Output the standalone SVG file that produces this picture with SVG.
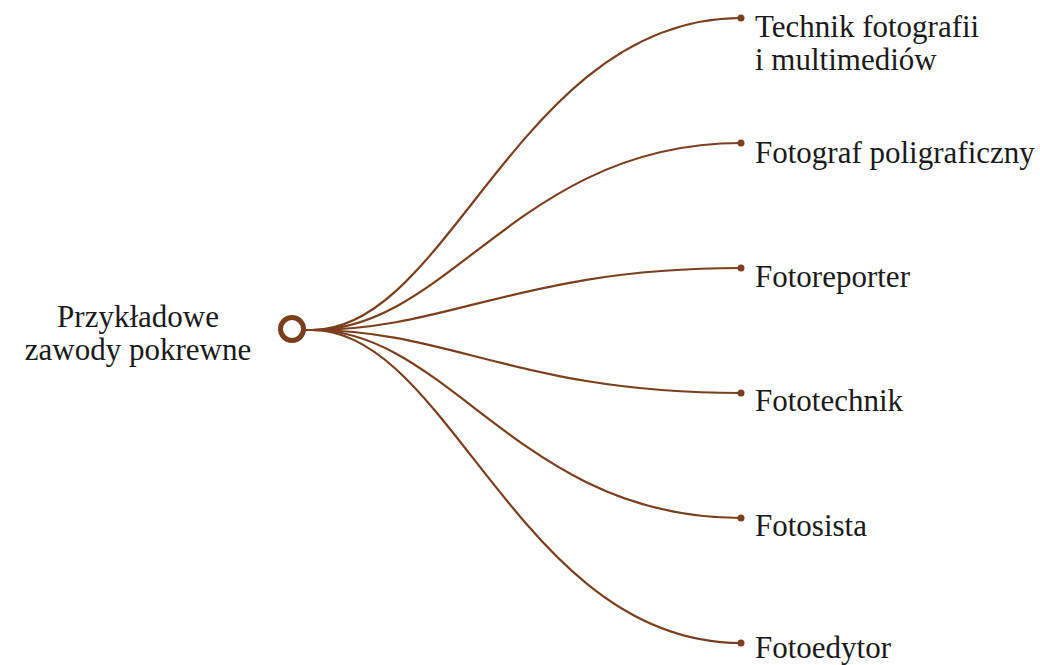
<svg xmlns="http://www.w3.org/2000/svg" width="1040" height="665" viewBox="0 0 1040 665">
<style>
.lnk{fill:none;stroke:#7b3f1e;stroke-width:2.2}
.dot{fill:#7b3f1e}
.t{font-family:"Liberation Serif","Times New Roman",serif;font-size:31px;fill:#1a1a1a}
</style>
<rect width="1040" height="665" fill="#ffffff"/>
<g id="connectors">
<path class="lnk" d="M304,330 L312,330 C450,330 520,18 741,18"/>
<path class="lnk" d="M312,330 C450,330 520,143 741,143"/>
<path class="lnk" d="M312,330 C450,330 520,268 741,268"/>
<path class="lnk" d="M312,330 C450,330 520,393 741,393"/>
<path class="lnk" d="M312,330 C450,330 520,518 741,518"/>
<path class="lnk" d="M312,330 C450,330 520,643 741,643"/>
</g>
<g id="root">
<circle cx="292" cy="329" r="11.5" fill="#ffffff" stroke="#7b3f1e" stroke-width="5"/>
<text class="t" x="138" y="327" text-anchor="middle">Przykładowe</text>
<text class="t" x="138" y="360" text-anchor="middle">zawody pokrewne</text>
</g>
<g id="n1"><circle class="dot" cx="741" cy="18" r="3.5"/><text class="t" x="755" y="37">Technik fotografii</text><text class="t" x="755" y="70">i multimediów</text></g>
<g id="n2"><circle class="dot" cx="741" cy="143" r="3.5"/><text class="t" x="755" y="163">Fotograf poligraficzny</text></g>
<g id="n3"><circle class="dot" cx="741" cy="268" r="3.5"/><text class="t" x="755" y="287">Fotoreporter</text></g>
<g id="n4"><circle class="dot" cx="741" cy="393" r="3.5"/><text class="t" x="755" y="411">Fototechnik</text></g>
<g id="n5"><circle class="dot" cx="741" cy="518" r="3.5"/><text class="t" x="755" y="536">Fotosista</text></g>
<g id="n6"><circle class="dot" cx="741" cy="643" r="3.5"/><text class="t" x="755" y="658">Fotoedytor</text></g>
</svg>
